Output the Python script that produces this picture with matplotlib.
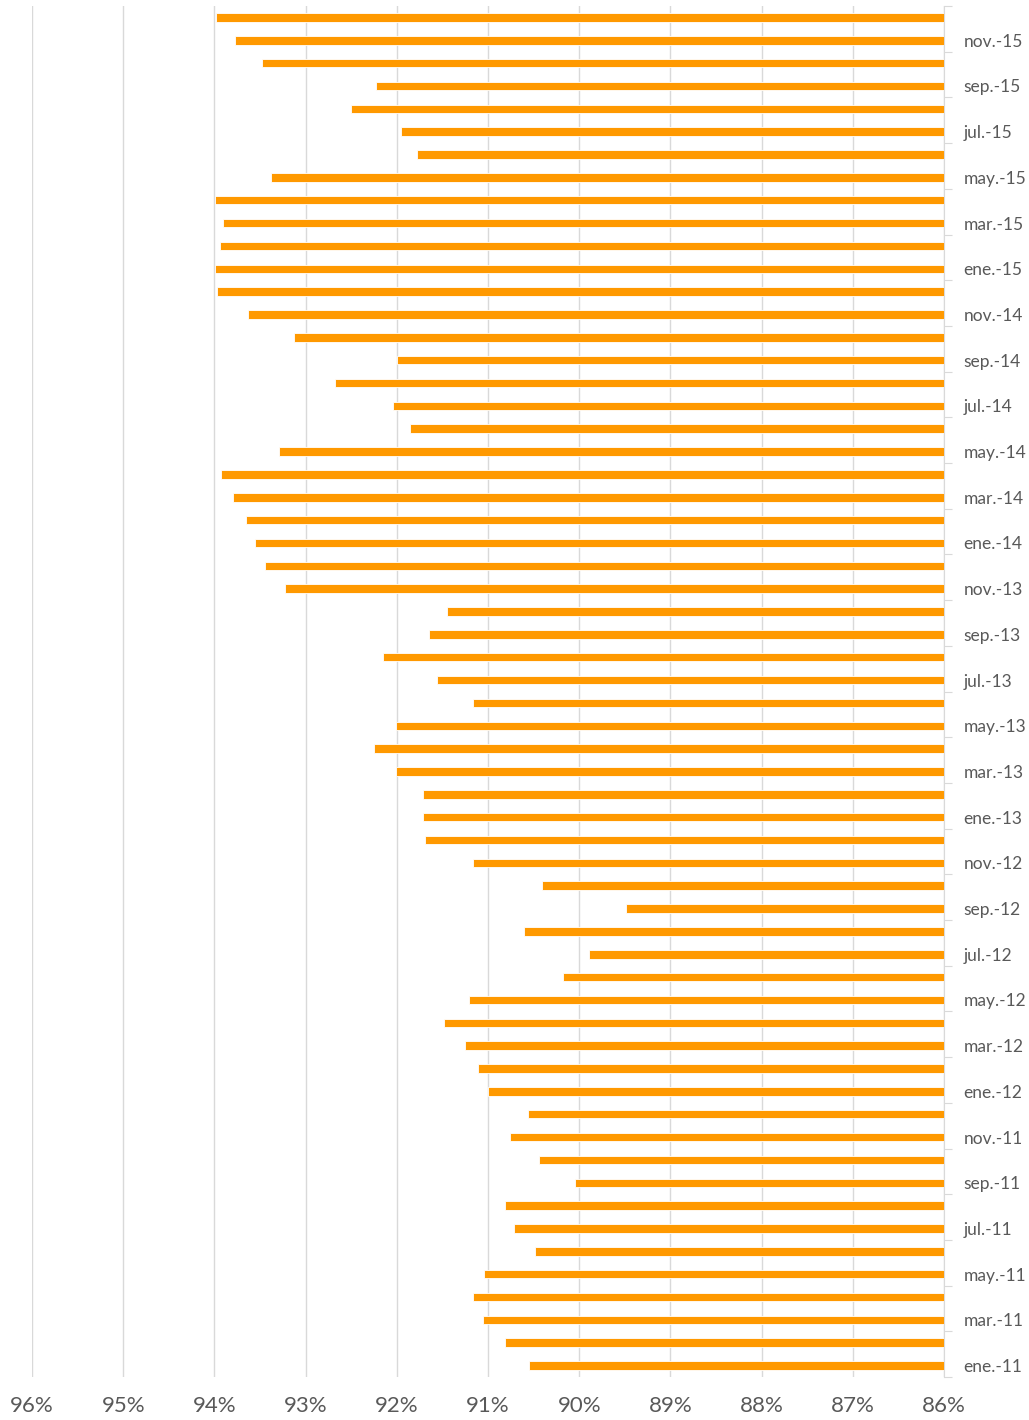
import matplotlib.pyplot as plt
import numpy as np

plt.rcParams['font.family'] = ['Lato', 'DejaVu Sans']

# meses ene.-11 .. dic.-15
months = ['ene.', 'feb.', 'mar.', 'abr.', 'may.', 'jun.',
          'jul.', 'ago.', 'sep.', 'oct.', 'nov.', 'dic.']
years = ['11', '12', '13', '14', '15']
categories = [m + '-' + y for y in years for m in months]

# valores en % (de ene.-11 a dic.-15)
values = [
    90.55, 90.81, 91.05, 91.16, 91.04, 90.48, 90.71, 90.81, 90.05, 90.44, 90.76, 90.56,  # 2011
    91.00, 91.11, 91.25, 91.48, 91.21, 90.18, 89.89, 90.61, 89.49, 90.41, 91.16, 91.69,  # 2012
    91.71, 91.71, 92.01, 92.25, 92.01, 91.16, 91.56, 92.15, 91.65, 91.45, 93.23, 93.45,  # 2013
    93.55, 93.65, 93.80, 93.93, 93.29, 91.86, 92.04, 92.68, 92.00, 93.13, 93.63, 93.97,  # 2014
    93.99, 93.94, 93.91, 93.99, 93.38, 91.78, 91.95, 92.50, 92.23, 93.48, 93.77, 93.98,  # 2015
]
base = 86
xticks = list(range(86, 97))

fig = plt.figure(figsize=(10.29, 14.2), dpi=100)
ax = fig.add_axes([32 / 1029, 1 - 1377 / 1420, 912 / 1029, 1371 / 1420])

y = np.arange(len(categories))
widths = [v - base for v in values]
ax.barh(y, widths, left=base, height=0.37, color='#FF9900',
        edgecolor='white', linewidth=0.6, zorder=3)

ax.set_xlim(96, 86)
ax.set_ylim(-0.5, len(categories) - 0.5)

ax.set_xticks(xticks)
ax.set_xticklabels([str(t) + '%' for t in xticks], fontsize=16, color='#595959')
ax.tick_params(axis='x', length=0, pad=14)
ax.grid(axis='x', color='#d9d9d9', linewidth=1, zorder=0)

ax.yaxis.tick_right()
ax.set_yticks(np.arange(-0.5, len(categories), 2), minor=False)
ax.set_yticklabels([])
ax.set_yticks(y[::2], minor=True)
ax.set_yticklabels(categories[::2], minor=True, fontsize=12.5, color='#595959')
ax.tick_params(axis='y', which='major', length=6, color='#d9d9d9', direction='out')
ax.tick_params(axis='y', which='minor', length=0, pad=14)

for s in ['top', 'bottom', 'left']:
    ax.spines[s].set_visible(False)
ax.spines['right'].set_color('#d9d9d9')

fig.savefig('out.png', dpi=100, facecolor='white')
